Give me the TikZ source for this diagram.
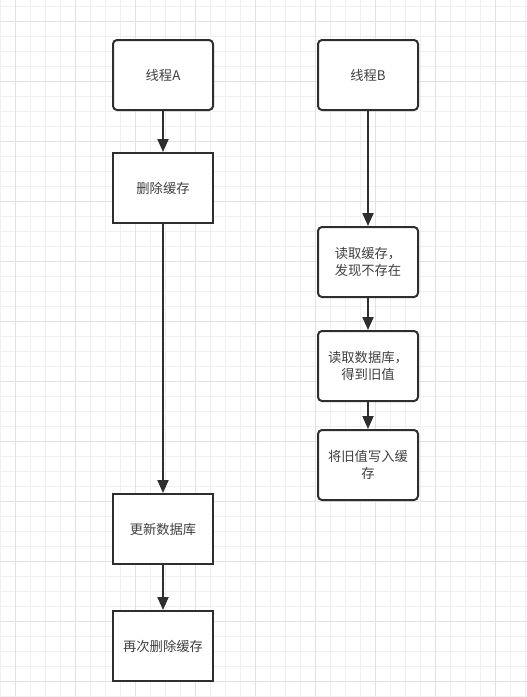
\documentclass[tikz,border=0pt]{standalone}
\usepackage{fontspec}
\setmainfont{Noto Sans CJK SC}
\usetikzlibrary{arrows.meta}
\definecolor{minorgrid}{HTML}{F0F0F0}
\definecolor{majorgrid}{HTML}{E2E2E2}
\definecolor{stroke}{HTML}{2E2E2E}
\definecolor{txt}{HTML}{404040}
\tikzset{
  box/.style={draw=stroke, line width=2pt, fill=white, minimum width=100pt, minimum height=70pt,
    inner sep=2pt, align=center, text=txt, font=\fontsize{13.3pt}{17.5pt}\selectfont},
  rbox/.style={box, rounded corners=4pt},
  flow/.style={draw=stroke, line width=2pt, -{Triangle[length=13pt,width=11pt]}},
  gminor/.style={draw=minorgrid, line width=1pt},
  gmajor/.style={draw=majorgrid, line width=1pt}
}
\begin{document}
\begin{tikzpicture}[x=1pt,y=-1pt]
\useasboundingbox (0,0) rectangle (527,697);
\fill[white] (0,0) rectangle (527,697);
\foreach \i in {0,...,35} \draw[gminor] (15*\i,0) -- (15*\i,697);
\foreach \j in {0,...,46} \draw[gminor] (0,6.7+15*\j) -- (527,6.7+15*\j);
\foreach \i in {1,5,...,33} \draw[gmajor] (15*\i,0) -- (15*\i,697);
\foreach \j in {1,5,...,45} \draw[gmajor] (0,6.7+15*\j) -- (527,6.7+15*\j);

\node[rbox] (A) at (163,75) {线程A};
\node[box] (del) at (163,188) {删除缓存};
\node[box] (upd) at (163,529) {更新数据库};
\node[box] (again) at (163,646) {再次删除缓存};

\node[rbox] (B) at (368,75) {线程B};
\node[rbox] (rc) at (368,262) {读取缓存，\\发现不存在};
\node[rbox] (rd) at (368,366) {读取数据库，\\得到旧值};
\node[rbox] (wr) at (368,465) {将旧值写入缓\\存};

\draw[flow] (A) -- (del);
\draw[flow] (del) -- (upd);
\draw[flow] (upd) -- (again);
\draw[flow] (B) -- (rc);
\draw[flow] (rc) -- (rd);
\draw[flow] (rd) -- (wr);
\end{tikzpicture}
\end{document}
